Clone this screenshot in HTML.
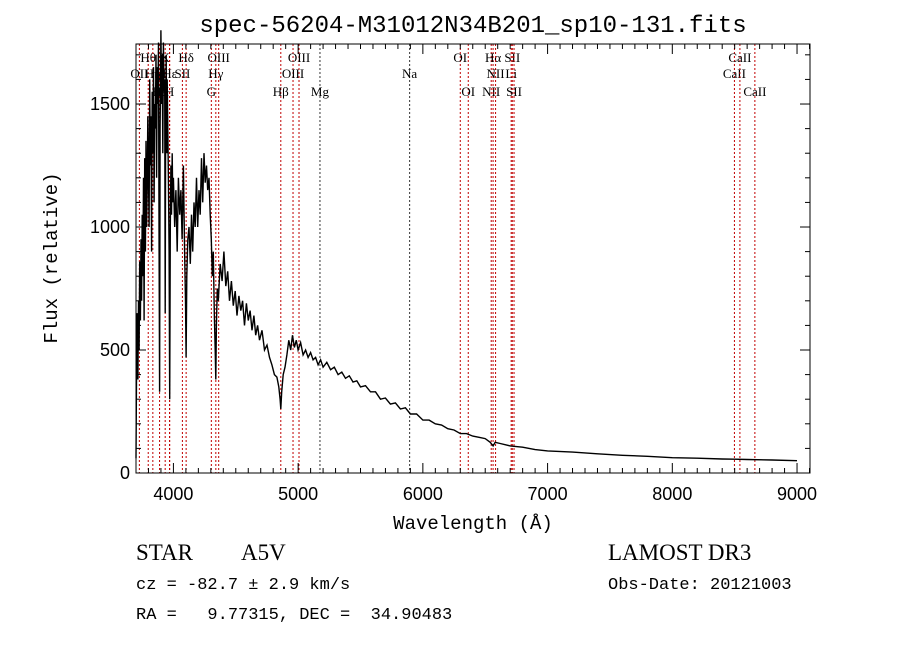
<!DOCTYPE html>
<html><head><meta charset="utf-8"><style>
html,body{margin:0;padding:0;background:#fff;}
svg{display:block;font-family:"Liberation Serif",serif;}
</style></head><body>
<svg id="chart" width="900" height="649" viewBox="0 0 900 649" xmlns="http://www.w3.org/2000/svg">
<rect width="900" height="649" fill="#fff"/>
<text x="473" y="32" text-anchor="middle" font-family="Liberation Mono, monospace" font-size="24">spec-56204-M31012N34B201_sp10-131.fits</text>
<g id="lines"></g>
<g id="spec"></g>
<g id="axes"></g>
<text x="473" y="529" text-anchor="middle" font-family="Liberation Mono, monospace" font-size="19">Wavelength (Å)</text>
<text transform="translate(57,258) rotate(-90)" text-anchor="middle" font-family="Liberation Mono, monospace" font-size="19">Flux (relative)</text>
<text x="136" y="560" font-family="Liberation Serif, serif" font-size="23">STAR</text>
<text x="241" y="560" font-family="Liberation Serif, serif" font-size="23">A5V</text>
<text x="608" y="560" font-family="Liberation Serif, serif" font-size="23">LAMOST DR3</text>
<text x="136" y="589" font-family="Liberation Mono, monospace" font-size="17">cz = -82.7 ± 2.9 km/s</text>
<text x="608" y="589" font-family="Liberation Mono, monospace" font-size="17">Obs-Date: 20121003</text>
<text x="136" y="619" font-family="Liberation Mono, monospace" font-size="17" xml:space="preserve">RA =   9.77315, DEC =  34.90483</text>
</svg>
<script>
const wavelengths=[3700,3705,3710,3715,3720,3725,3730,3735,3740,3745,3750,3755,3760,3765,3770,3775,3780,3785,3790,3795,3800,3805,3810,3815,3820,3825,3830,3835,3840,3845,3850,3855,3860,3865,3870,3875,3880,3885,3889,3893,3897,3900,3905,3910,3915,3920,3925,3930,3934,3938,3942,3946,3950,3955,3960,3965,3970,3975,3980,3985,3990,3995,4000,4010,4020,4030,4040,4050,4060,4070,4080,4090,4097,4102,4107,4115,4125,4135,4145,4155,4165,4175,4185,4195,4205,4215,4225,4235,4245,4255,4265,4275,4285,4295,4304,4312,4320,4328,4335,4340,4345,4352,4360,4375,4390,4405,4420,4435,4450,4465,4480,4495,4510,4525,4540,4555,4570,4585,4600,4615,4630,4645,4660,4675,4690,4710,4730,4750,4770,4790,4810,4830,4845,4855,4861,4868,4880,4895,4910,4925,4940,4955,4970,4985,5000,5020,5040,5060,5080,5100,5120,5140,5160,5180,5200,5230,5260,5290,5320,5350,5380,5410,5440,5470,5500,5540,5580,5620,5660,5700,5740,5780,5820,5860,5900,5950,6000,6050,6100,6150,6200,6250,6300,6350,6400,6450,6500,6540,6563,6580,6620,6700,6800,6900,7000,7200,7400,7600,7800,8000,8200,8400,8500,8600,8800,9000];
const fluxes=[60,450,650,380,700,500,860,620,950,700,1050,800,1200,620,1280,900,1350,1000,1150,1450,1200,1000,1600,1250,1450,900,1550,1300,1650,1100,1500,1400,1700,1200,1650,1500,1750,900,330,1400,1600,1800,1500,1700,1300,1750,1550,1600,650,1500,1700,1300,1600,1400,1200,900,300,1000,1250,1050,1300,1100,1200,1000,1150,900,1200,1050,1150,950,1250,900,700,470,800,950,1000,850,1050,900,1100,1000,1200,1000,1150,1050,1280,1100,1300,1180,1250,1150,1200,1050,950,800,900,650,500,380,600,750,700,850,780,900,760,820,700,780,680,740,640,720,660,700,600,690,620,660,580,640,560,600,540,580,500,520,470,440,400,390,350,300,260,330,400,430,480,540,500,560,510,540,500,530,480,500,470,490,460,470,440,460,430,450,420,430,400,410,385,395,370,375,350,355,330,330,300,305,280,285,260,265,240,240,215,215,200,195,180,175,160,160,150,145,140,125,110,125,120,110,105,95,90,85,78,72,68,62,60,57,56,55,53,50];
const lineWaves=[3727,3798,3835,3889,3934,3969,3970,4072,4102,4304,4340,4363,4861,4959,5007,5175,5894,6300,6364,6548,6563,6583,6708,6717,6731,8498,8542,8662];
const lineLabels=["OII","Hθ","Hη","Hε","K","H","Hε","SII","Hδ","G","Hγ","OIII","Hβ","OIII","OIII","Mg","Na","OI","OI","NII","Hα","NII","Li","SII","SII","CaII","CaII","CaII"];
const lineRows=[1,0,1,2,0,2,1,1,0,2,1,0,2,1,0,2,1,0,2,2,0,1,1,0,2,1,0,2];
const xTicks=[4000,5000,6000,7000,8000,9000];
const yTicks=[0,500,1000,1500];

const X0=136,X1=810,Y0=44,Y1=473,WMIN=3700,WMAX=9104,FMAX=1744;
const xs=w=>X0+(w-WMIN)/(WMAX-WMIN)*(X1-X0);
const ys=f=>Y1-f/FMAX*(Y1-Y0);
const NS="http://www.w3.org/2000/svg";
function mk(tag,attrs,parent){const e=document.createElementNS(NS,tag);for(const k in attrs)e.setAttribute(k,attrs[k]);parent.appendChild(e);return e;}
const gl=document.getElementById('lines'),gs=document.getElementById('spec'),ga=document.getElementById('axes');
const rowY=[62,78,96];
lineWaves.forEach((w,i)=>{
  const x=xs(w);
  const black=(lineLabels[i]==="Mg"||lineLabels[i]==="Na");
  const l=mk('line',{x1:x,x2:x,y1:Y0,y2:Y1,stroke:black?'#333':'#c00000','stroke-width':1,'stroke-dasharray':'2,2'},gl);
  
  
  const t=mk('text',{x:x,y:rowY[lineRows[i]],'text-anchor':'middle','font-size':13},gl);
  t.textContent=lineLabels[i];
  
  
});
let d='';
wavelengths.forEach((w,i)=>{const x=xs(w),y=ys(fluxes[i]);d+=(i?'L':'M')+x.toFixed(1)+','+y.toFixed(1);});
const p=mk('path',{d:d,fill:'none',stroke:'#000','stroke-width':1.4},gs);


const fr=mk('rect',{x:X0,y:Y0,width:X1-X0,height:Y1-Y0,fill:'none',stroke:'#000','stroke-width':1},ga);


for(let w=3800;w<=WMAX;w+=100){
  const x=xs(w),L=(w%1000===0)?10:5;
  mk('line',{x1:x,x2:x,y1:Y1,y2:Y1-L,stroke:'#000'},ga);
  mk('line',{x1:x,x2:x,y1:Y0,y2:Y0+L,stroke:'#000'},ga);
}
xTicks.forEach(w=>{const t=mk('text',{x:xs(w),y:Y1+27,'text-anchor':'middle','font-family':'Liberation Sans, sans-serif','font-size':18},ga);t.textContent=w;
  
  });
for(let f=0;f<=FMAX;f+=100){
  const y=ys(f),L=(f%500===0)?10:5;
  mk('line',{x1:X0,x2:X0+L,y1:y,y2:y,stroke:'#000'},ga);
  mk('line',{x1:X1,x2:X1-L,y1:y,y2:y,stroke:'#000'},ga);
}
yTicks.forEach(f=>{const t=mk('text',{x:X0-6,y:ys(f)+6,'text-anchor':'end','font-family':'Liberation Sans, sans-serif','font-size':18},ga);t.textContent=f;
  
  });
</script>
</body></html>
